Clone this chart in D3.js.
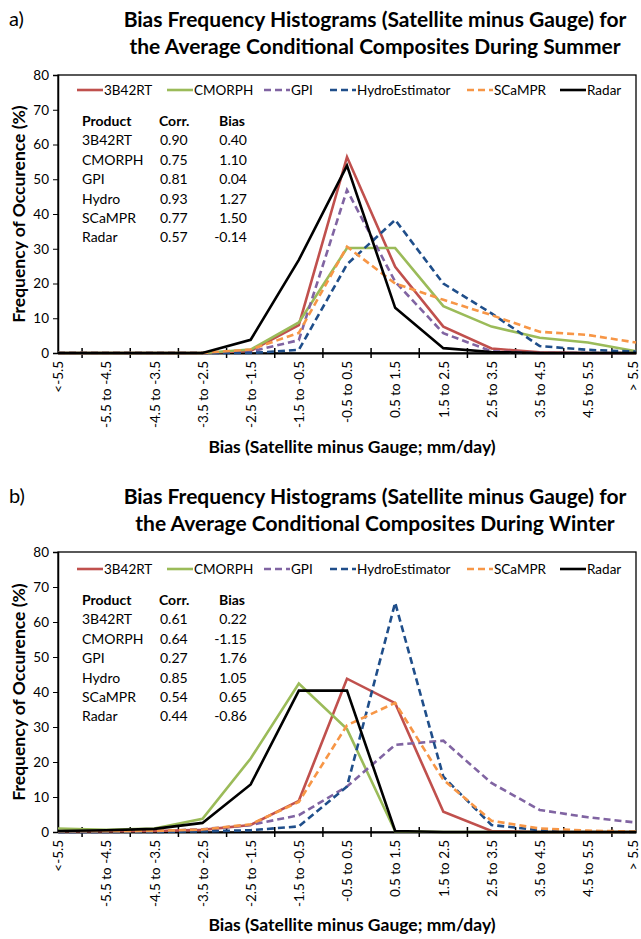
<!DOCTYPE html>
<html><head><meta charset="utf-8">
<script src="https://cdn.jsdelivr.net/npm/d3@7"></script>
<style>
body{margin:0;background:#fff;}
svg{display:block;font-family:Lato,"Open Sans",sans-serif;}
</style></head>
<body><svg id="c" width="641" height="939"></svg>
<script>
const categories = ["<-5.5","-5.5 to -4.5","-4.5 to -3.5","-3.5 to -2.5","-2.5 to -1.5","-1.5 to -0.5","-0.5 to 0.5","0.5 to 1.5","1.5 to 2.5","2.5 to 3.5","3.5 to 4.5","4.5 to 5.5","> 5.5"];
const products = ["3B42RT","CMORPH","GPI","HydroEstimator","SCaMPR","Radar"];
const yTicks = [0,10,20,30,40,50,60,70,80];

// Summer (a)
const summer3B42RT = [0,0,0,0,0.6,8.0,56.4,24.8,7.6,1.3,0.2,0,0];
const summerCMORPH = [0,0,0,0,1.0,8.8,30.2,30.2,13.5,7.6,4.4,3.0,0.5];
const summerGPI    = [0,0,0,0,0.4,3.7,46.9,20.5,5.7,0.5,0,0,0];
const summerHydro  = [0,0,0,0,0,0.9,25.5,38.3,20.0,11.4,2.0,0.9,0.4];
const summerSCaMPR = [0,0,0,0,1.0,5.8,30.6,20.0,15.3,10.9,6.1,5.2,3.0];
const summerRadar  = [0,0,0,0,3.8,26.8,53.9,13.0,1.4,0.3,0,0,0];

// Winter (b)
const winter3B42RT = [0.2,0.2,0.3,0.6,2.0,8.9,43.8,36.8,5.8,0.3,0,0,0];
const winterCMORPH = [1.0,0.6,1.0,3.8,21.0,42.4,29.4,0.2,0,0,0,0,0];
const winterGPI    = [0,0,0.2,0.8,2.0,4.8,13.0,24.9,26.1,14.0,6.3,4.2,2.7];
const winterHydro  = [0,0,0,0.2,0.5,1.6,13.0,65.5,15.8,2.0,0.5,0.2,0];
const winterSCaMPR = [0.2,0.2,0.3,0.7,2.2,8.6,30.5,36.9,14.9,3.2,1.0,0.4,0.1];
const winterRadar  = [0.3,0.5,0.9,2.6,13.6,40.4,40.4,0.3,0,0,0,0,0];

// Stats tables
const statProducts = ["3B42RT","CMORPH","GPI","Hydro","SCaMPR","Radar"];
const summerCorr = ["0.90","0.75","0.81","0.93","0.77","0.57"];
const summerBias = ["0.40","1.10","0.04","1.27","1.50","-0.14"];
const winterCorr = ["0.61","0.64","0.27","0.85","0.54","0.44"];
const winterBias = ["0.22","-1.15","1.76","1.05","0.65","-0.86"];

const colors = {"3B42RT":"#C0504D","CMORPH":"#9BBB59","GPI":"#8064A2","HydroEstimator":"#1F4E8A","SCaMPR":"#F79646","Radar":"#000000"};
const dashed = {"3B42RT":false,"CMORPH":false,"GPI":true,"HydroEstimator":true,"SCaMPR":true,"Radar":false};

const svg = d3.select("#c");

function drawChart(cfg){
  const g = svg.append("g");
  const x = d3.scalePoint().domain(categories).range([58,636]);
  const y = d3.scaleLinear().domain([0,80]).range([cfg.bottom,cfg.top]);

  // labels/titles
  g.append("text").attr("x",9).attr("y",cfg.titleY+6).attr("font-size",20).text(cfg.letter);
  cfg.title.forEach((t,i)=>{
    g.append("text").attr("x",375).attr("y",cfg.titleY+i*27).attr("dy","0.35em")
     .attr("text-anchor","middle").attr("font-size",21).attr("font-weight","bold").text(t);
  });

  // plot frame
  g.append("rect").attr("x",58).attr("y",cfg.top).attr("width",578).attr("height",cfg.bottom-cfg.top)
   .attr("fill","none").attr("stroke","#000").attr("stroke-width",1.3);

  // y axis
  const ya = d3.axisLeft(y).tickValues(yTicks).tickSize(5).tickPadding(4);
  const yg = g.append("g").attr("transform","translate(58,0)").call(ya);
  yg.select(".domain").attr("stroke-width",1.5);
  yg.selectAll("text").attr("font-size",13.5).attr("font-family","Lato,sans-serif").attr("fill","#000");

  // x axis: ticks between categories
  const xa = d3.axisBottom(x).tickSize(0).tickPadding(0);
  const xg = g.append("g").attr("transform",`translate(0,${cfg.bottom})`).call(xa);
  xg.select(".domain").attr("stroke-width",2);
  xg.selectAll(".tick text").attr("font-size",13.5).attr("font-family","Lato,sans-serif").attr("fill","#000")
    .attr("transform","rotate(-90)").attr("text-anchor","end").attr("x",-8).attr("y",0)
    .attr("dy",(d,i)=> i===categories.length-1 ? "0.1em" : "0.35em");
  const step = x.step();
  const mids = categories.slice(0,-1).map(c=>x(c)+step/2);
  g.append("g").selectAll("line").data(mids).join("line")
   .attr("x1",d=>d).attr("x2",d=>d).attr("y1",cfg.bottom-5).attr("y2",cfg.bottom+5)
   .attr("stroke","#000").attr("stroke-width",1.5);

  // axis titles
  g.append("text").attr("transform",`translate(19,${(cfg.top+cfg.bottom)/2}) rotate(-90)`)
   .attr("text-anchor","middle").attr("dy","0.35em").attr("font-size",17.5).attr("font-weight","bold")
   .text("Frequency of Occurence (%)");
  g.append("text").attr("x",352).attr("y",cfg.xTitleY).attr("dy","0.35em").attr("text-anchor","middle")
   .attr("font-size",17.5).attr("font-weight","bold").text("Bias (Satellite minus Gauge; mm/day)");

  // lines
  const line = d3.line().x((d,i)=>x(categories[i])).y(d=>y(d));
  products.forEach((p,k)=>{
    g.append("path").datum(cfg.series[k]).attr("d",line).attr("fill","none")
     .attr("stroke",colors[p]).attr("stroke-width",2.6).attr("stroke-linejoin","miter")
     .attr("stroke-dasharray",dashed[p]?"7,4":null);
  });

  // legend
  const lx = [77,167,264,330,467,560];
  products.forEach((p,k)=>{
    g.append("line").attr("x1",lx[k]).attr("x2",lx[k]+26).attr("y1",cfg.legendY).attr("y2",cfg.legendY)
     .attr("stroke",colors[p]).attr("stroke-width",2.6).attr("stroke-dasharray",dashed[p]?"7,4":null);
    g.append("text").attr("x",lx[k]+27).attr("y",cfg.legendY).attr("dy","0.35em").attr("font-size",13.5).text(p);
  });

  // stats table
  const ty = cfg.tableY, rh = 19.4, fs = 14;
  g.append("text").attr("x",82).attr("y",ty).attr("dy","0.35em").attr("font-size",fs).attr("font-weight","bold").text("Product");
  g.append("text").attr("x",159).attr("y",ty).attr("dy","0.35em").attr("font-size",fs).attr("font-weight","bold").text("Corr.");
  g.append("text").attr("x",245).attr("y",ty).attr("dy","0.35em").attr("text-anchor","end").attr("font-size",fs).attr("font-weight","bold").text("Bias");
  statProducts.forEach((p,i)=>{
    const yy = ty + (i+1)*rh;
    g.append("text").attr("x",82).attr("y",yy).attr("dy","0.35em").attr("font-size",fs).text(p);
    g.append("text").attr("x",160).attr("y",yy).attr("dy","0.35em").attr("font-size",fs).text(cfg.corr[i]);
    g.append("text").attr("x",247).attr("y",yy).attr("dy","0.35em").attr("text-anchor","end").attr("font-size",fs).text(cfg.bias[i]);
  });
}

drawChart({letter:"a)", title:["Bias Frequency Histograms (Satellite minus Gauge) for","the Average Conditional Composites During Summer"],
  titleY:20, top:75, bottom:353, xTitleY:447, legendY:90, tableY:121,
  series:[summer3B42RT,summerCMORPH,summerGPI,summerHydro,summerSCaMPR,summerRadar],
  corr:summerCorr, bias:summerBias});
drawChart({letter:"b)", title:["Bias Frequency Histograms (Satellite minus Gauge) for","the Average Conditional Composites During Winter"],
  titleY:497, top:552, bottom:832, xTitleY:925, legendY:569, tableY:600,
  series:[winter3B42RT,winterCMORPH,winterGPI,winterHydro,winterSCaMPR,winterRadar],
  corr:winterCorr, bias:winterBias});
</script></body></html>
